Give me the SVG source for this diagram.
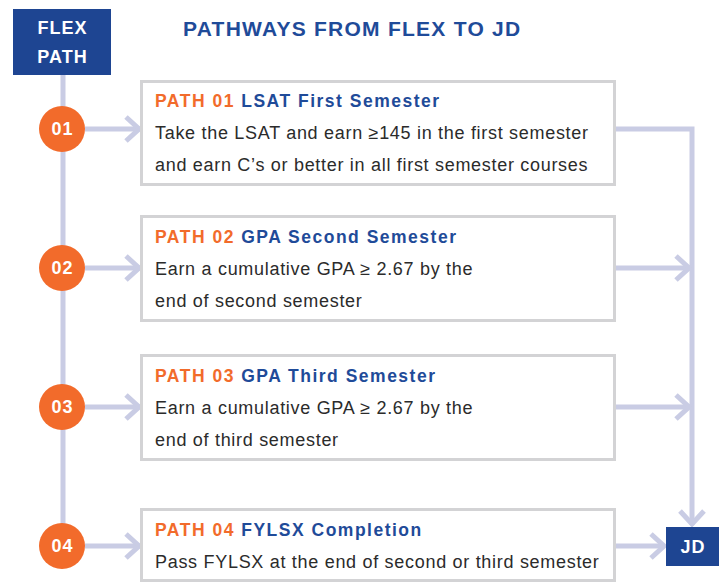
<svg xmlns="http://www.w3.org/2000/svg" width="723" height="582" viewBox="0 0 723 582">
<style>
.hd{font-family:"Liberation Sans",Arial,sans-serif;font-weight:bold;font-size:17.5px;letter-spacing:1.5px}
.or{fill:#f26b2b}
.bl{fill:#1f4b99}
.ttl{font-family:"Liberation Sans",Arial,sans-serif;font-weight:bold;font-size:21px;letter-spacing:1.25px;fill:#1f4b99}
.body{font-family:"Liberation Sans",Arial,sans-serif;font-size:18px;letter-spacing:0.7px;fill:#2b2b2b}
.box{fill:#fff;stroke:#d3d3d5;stroke-width:3}
.wt{font-family:"Liberation Sans",Arial,sans-serif;font-weight:bold;font-size:18px;letter-spacing:1px;fill:#fff;text-anchor:middle}
.ln{fill:none;stroke:#c9cce4;stroke-width:5}
</style>
<defs>
<marker id="ch" markerUnits="userSpaceOnUse" viewBox="-16 -15 18 30" refX="0" refY="0" markerWidth="18" markerHeight="30" orient="auto">
<polyline points="-14,-12 -1,0 -14,12" fill="none" stroke="#c9cce4" stroke-width="5"/>
</marker>
</defs>
<rect width="723" height="582" fill="#fff"/>
<text x="183" y="36" class="ttl">PATHWAYS FROM FLEX TO JD</text>
<g id="connectors">
<line class="ln" x1="63" y1="75" x2="63" y2="546"/>
<line class="ln" x1="85" y1="129" x2="140" y2="129" marker-end="url(#ch)"/>
<line class="ln" x1="85" y1="268" x2="140" y2="268" marker-end="url(#ch)"/>
<line class="ln" x1="85" y1="407" x2="140" y2="407" marker-end="url(#ch)"/>
<line class="ln" x1="85" y1="546" x2="140" y2="546" marker-end="url(#ch)"/>
<polyline class="ln" points="615,129 692,129 692,525" marker-end="url(#ch)"/>
<line class="ln" x1="615" y1="268" x2="690" y2="268" marker-end="url(#ch)"/>
<line class="ln" x1="615" y1="407" x2="690" y2="407" marker-end="url(#ch)"/>
<line class="ln" x1="615" y1="546" x2="665" y2="546" marker-end="url(#ch)"/>
</g>
<g id="flex">
<rect x="13" y="9" width="98" height="66" fill="#1e4592"/>
<text x="62.5" y="34" class="wt">FLEX</text>
<text x="62.5" y="63" class="wt">PATH</text>
</g>
<g id="c01"><circle cx="62" cy="129" r="23" fill="#f26b2b"/><text x="62.5" y="135" class="wt">01</text></g>
<g id="c02"><circle cx="62" cy="268" r="23" fill="#f26b2b"/><text x="62.5" y="274" class="wt">02</text></g>
<g id="c03"><circle cx="62" cy="407" r="23" fill="#f26b2b"/><text x="62.5" y="413" class="wt">03</text></g>
<g id="c04"><circle cx="62" cy="546" r="23" fill="#f26b2b"/><text x="62.5" y="552" class="wt">04</text></g>
<g id="p01">
<rect class="box" x="141.5" y="81.5" width="473" height="103"/>
<text x="155" y="107" class="hd"><tspan class="or">PATH 01 </tspan><tspan class="bl">LSAT First Semester</tspan></text>
<text x="155" y="139" class="body">Take the LSAT and earn ≥145 in the first semester</text>
<text x="155" y="171" class="body">and earn C’s or better in all first semester courses</text>
</g>
<g id="p02">
<rect class="box" x="141.5" y="216.5" width="473" height="104"/>
<text x="155" y="243" class="hd"><tspan class="or">PATH 02 </tspan><tspan class="bl">GPA Second Semester</tspan></text>
<text x="155" y="275" class="body">Earn a cumulative GPA ≥ 2.67 by the</text>
<text x="155" y="307" class="body">end of second semester</text>
</g>
<g id="p03">
<rect class="box" x="141.5" y="355.5" width="473" height="104"/>
<text x="155" y="382" class="hd"><tspan class="or">PATH 03 </tspan><tspan class="bl">GPA Third Semester</tspan></text>
<text x="155" y="414" class="body">Earn a cumulative GPA ≥ 2.67 by the</text>
<text x="155" y="446" class="body">end of third semester</text>
</g>
<g id="p04">
<rect class="box" x="141.5" y="509.5" width="473" height="71"/>
<text x="155" y="536" class="hd"><tspan class="or">PATH 04 </tspan><tspan class="bl">FYLSX Completion</tspan></text>
<text x="155" y="568" class="body">Pass FYLSX at the end of second or third semester</text>
</g>
<g id="jd">
<rect x="666" y="527" width="53" height="39" fill="#1e4592"/>
<text x="693" y="553" class="wt">JD</text>
</g>
</svg>
